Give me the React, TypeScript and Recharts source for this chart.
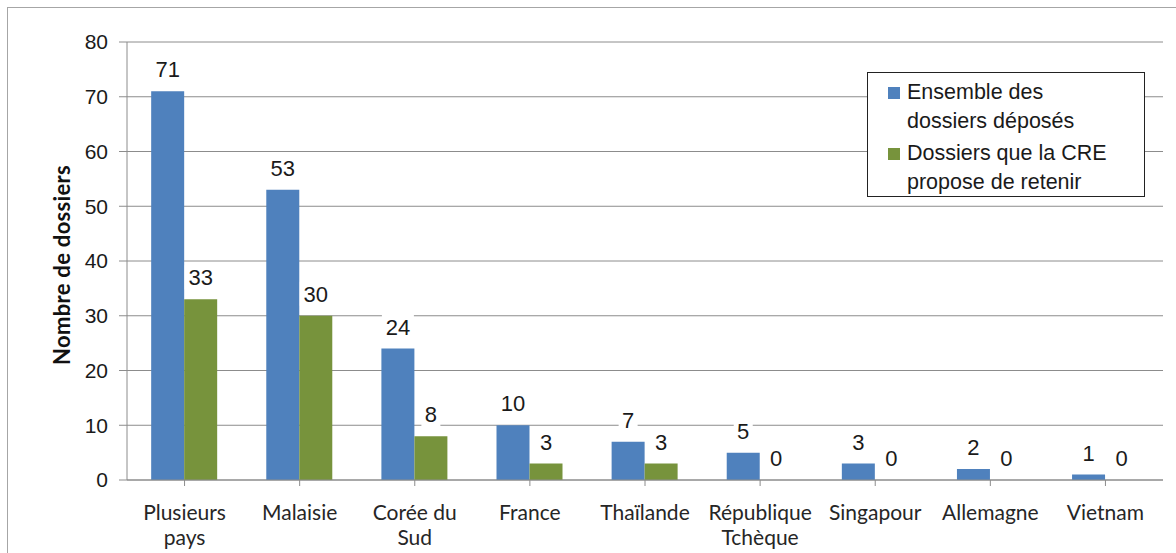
import React from "react";
import {
  BarChart,
  Bar,
  XAxis,
  YAxis,
  CartesianGrid,
  LabelList,
} from "recharts";

// Values
const countries = [
  "Plusieurs\npays",
  "Malaisie",
  "Corée du\nSud",
  "France",
  "Thaïlande",
  "République\nTchèque",
  "Singapour",
  "Allemagne",
  "Vietnam",
];
const deposes = [71, 53, 24, 10, 7, 5, 3, 2, 1];
const retenus = [33, 30, 8, 3, 3, 0, 0, 0, 0];
const yTicks = [0, 10, 20, 30, 40, 50, 60, 70, 80];

const BLUE = "#4f81bd";
const GREEN = "#77933c";
const GRID = "#8c8c8c";
const NUM_FONT = "'Liberation Sans', Arial, sans-serif";
const CAT_FONT = "Lato, 'Open Sans', sans-serif";

const data = countries.map((c, i) => ({
  name: c,
  deposes: deposes[i],
  retenus: retenus[i],
}));

function CategoryTick(props: any) {
  const { x, y, payload } = props;
  const lines = String(payload.value).split("\n");
  return (
    <text
      x={x}
      y={y + 32}
      textAnchor="middle"
      fill="#262626"
      fontFamily={CAT_FONT}
      fontSize={21}
    >
      {lines.map((l, i) => (
        <tspan key={i} x={x} dy={i === 0 ? 0 : 25}>
          {l}
        </tspan>
      ))}
    </text>
  );
}

function drawLabel(cx: number, top: number, value: number) {
  const cy = top - 22;
  const w = String(value).length * 13 + 6;
  return (
    <g>
      <rect x={cx - w / 2} y={cy - 12} width={w} height={24} fill="#fff" />
      <text
        x={cx}
        y={cy + 8}
        textAnchor="middle"
        fill="#1a1a1a"
        fontFamily={NUM_FONT}
        fontSize={22}
      >
        {value}
      </text>
    </g>
  );
}

function BlueLabel(props: any) {
  const { x, y, width, value } = props;
  return drawLabel(x + width / 2, y, value);
}

// green labels are drawn from the blue bar geometry so that zero values still show
function GreenLabel(props: any) {
  const { x, y, width, height, index } = props;
  const perUnit = height / deposes[index];
  const bottom = y + height;
  const v = retenus[index];
  return drawLabel(x + width * 1.5, bottom - v * perUnit, v);
}

function YLabel() {
  return (
    <text
      transform="translate(62, 257) rotate(-90)"
      textAnchor="middle"
      fill="#111"
      fontFamily={CAT_FONT}
      fontWeight={700}
      fontSize={22}
      letterSpacing={0.3}
    >
      Nombre de dossiers
    </text>
  );
}

function LegendBox() {
  const items = [
    { color: BLUE, lines: ["Ensemble des", "dossiers déposés"] },
    { color: GREEN, lines: ["Dossiers que la CRE", "propose de retenir"] },
  ];
  return (
    <div
      style={{
        position: "absolute",
        left: 859,
        top: 64,
        boxSizing: "border-box",
        width: 278,
        height: 125,
        border: "1.5px solid #222",
        background: "#fff",
        padding: "5px 0 0 20px",
        fontFamily: NUM_FONT,
        fontSize: 21.5,
        color: "#1a1a1a",
        lineHeight: "29px",
      }}
    >
      {items.map((it, i) => (
        <div key={i} style={{ display: "flex", marginBottom: i === 0 ? 3 : 0 }}>
          <span
            style={{
              width: 12,
              height: 12,
              background: it.color,
              marginTop: 9,
              marginRight: 7,
              flexShrink: 0,
            }}
          />
          <div>
            {it.lines.map((l) => (
              <div key={l}>{l}</div>
            ))}
          </div>
        </div>
      ))}
    </div>
  );
}

export default function App() {
  return (
    <div
      style={{
        position: "absolute",
        left: 7,
        top: 7,
        width: 1180,
        height: 560,
        borderTop: "1px solid #a6a6a6",
        borderLeft: "1px solid #a6a6a6",
        background: "#fff",
        overflow: "hidden",
      }}
    >
      <BarChart
        width={1168}
        height={545}
        data={data}
        margin={{ top: 34, right: 13, left: 0, bottom: 0 }}
        barCategoryGap="21%"
        barGap={0}
      >
        <CartesianGrid vertical={false} stroke={GRID} strokeWidth={1} />
        <XAxis
          dataKey="name"
          height={73}
          interval={0}
          tickSize={6}
          axisLine={{ stroke: GRID }}
          tickLine={{ stroke: GRID }}
          tick={<CategoryTick />}
        />
        <YAxis
          width={119}
          domain={[0, 80]}
          ticks={yTicks}
          interval={0}
          tickSize={8}
          tickMargin={11}
          axisLine={{ stroke: GRID }}
          tickLine={{ stroke: GRID }}
          tick={{ fill: "#1a1a1a", fontFamily: NUM_FONT, fontSize: 21 }}
          label={<YLabel />}
        />
        <Bar dataKey="deposes" fill={BLUE} isAnimationActive={false}>
          <LabelList dataKey="deposes" content={<BlueLabel />} />
          <LabelList dataKey="retenus" content={<GreenLabel />} />
        </Bar>
        <Bar dataKey="retenus" fill={GREEN} isAnimationActive={false} />
      </BarChart>
      <LegendBox />
    </div>
  );
}
